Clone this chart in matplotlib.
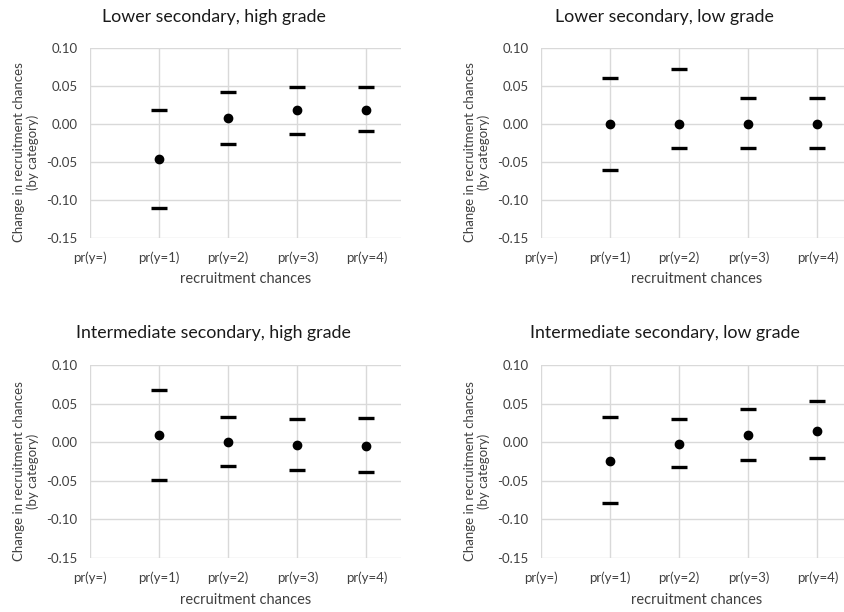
import numpy as np
import matplotlib
matplotlib.use("Agg")
import matplotlib.pyplot as plt

plt.rcParams['font.family'] = ['Lato', 'DejaVu Sans']

categories = ["pr(y=)", "pr(y=1)", "pr(y=2)", "pr(y=3)", "pr(y=4)"]

titles = ["Lower secondary, high grade", "Lower secondary, low grade",
          "Intermediate secondary, high grade", "Intermediate secondary, low grade"]

# point estimates for pr(y=1)..pr(y=4)
lsh_point = [-0.046, 0.008, 0.018, 0.019]
lsh_upper = [0.018, 0.042, 0.049, 0.049]
lsh_lower = [-0.110, -0.026, -0.013, -0.009]

lsl_point = [0.0, 0.0, 0.0, 0.0]
lsl_upper = [0.061, 0.072, 0.034, 0.034]
lsl_lower = [-0.060, -0.031, -0.031, -0.031]

ish_point = [0.009, 0.0, -0.004, -0.005]
ish_upper = [0.068, 0.032, 0.030, 0.031]
ish_lower = [-0.049, -0.031, -0.036, -0.039]

isl_point = [-0.024, -0.002, 0.009, 0.015]
isl_upper = [0.033, 0.030, 0.043, 0.053]
isl_lower = [-0.079, -0.032, -0.023, -0.021]

panels = [(lsh_point, lsh_upper, lsh_lower), (lsl_point, lsl_upper, lsl_lower),
          (ish_point, ish_upper, ish_lower), (isl_point, isl_upper, isl_lower)]

fig = plt.figure(figsize=(8.44, 6.12), dpi=100)

W, H = 844, 612
# axes boxes in pixels: left, top, width, height
boxes = [(90, 48, 311, 190), (541, 48, 311, 190),
         (90, 365, 311, 193), (541, 365, 311, 193)]
title_y = [17, 17, 333, 333]

grid_col = "#d9d9d9"
text_col = "#404040"

for i, (pt, up, lo) in enumerate(panels):
    l, t, w, h = boxes[i]
    ax = fig.add_axes([l / W, 1 - (t + h) / H, w / W, h / H])
    x = np.arange(1, len(pt) + 1)
    ax.plot(x, up, linestyle="none", marker="_", markersize=12, markeredgewidth=2.4, color="black", zorder=3)
    ax.plot(x, lo, linestyle="none", marker="_", markersize=12, markeredgewidth=2.4, color="black", zorder=3)
    ax.plot(x, pt, linestyle="none", marker="o", markersize=6, color="black", zorder=3)

    ax.set_xlim(0, 4.5)
    ax.set_ylim(-0.15, 0.10)
    ax.set_xticks(range(len(categories)))
    ax.set_xticklabels(categories)
    ax.set_yticks([-0.15, -0.10, -0.05, 0.0, 0.05, 0.10])
    ax.set_yticklabels([f"{v:.2f}" for v in [-0.15, -0.10, -0.05, 0.0, 0.05, 0.10]])
    ax.tick_params(axis="both", length=0, labelsize=9.5, colors=text_col)
    ax.tick_params(axis="x", pad=10)
    ax.tick_params(axis="y", pad=9)
    ax.grid(True, color=grid_col, linewidth=1)
    ax.set_axisbelow(True)
    for s in ax.spines.values():
        s.set_visible(False)

    ax.set_ylabel("Change in recruitment chances\n(by category)", fontsize=9.5, color=text_col,
                  linespacing=1.15)
    ax.yaxis.set_label_coords(-0.165, 0.45)
    ax.set_xlabel("recruitment chances", fontsize=10.5, color=text_col)
    ax.xaxis.set_label_coords(0.5, -0.18)

    fig.text((l + w / 2 - 32) / W, 1 - title_y[i] / H, titles[i],
             fontsize=12.8, color="#1a1a1a", ha="center", va="center")

fig.savefig("out.png", dpi=100)
